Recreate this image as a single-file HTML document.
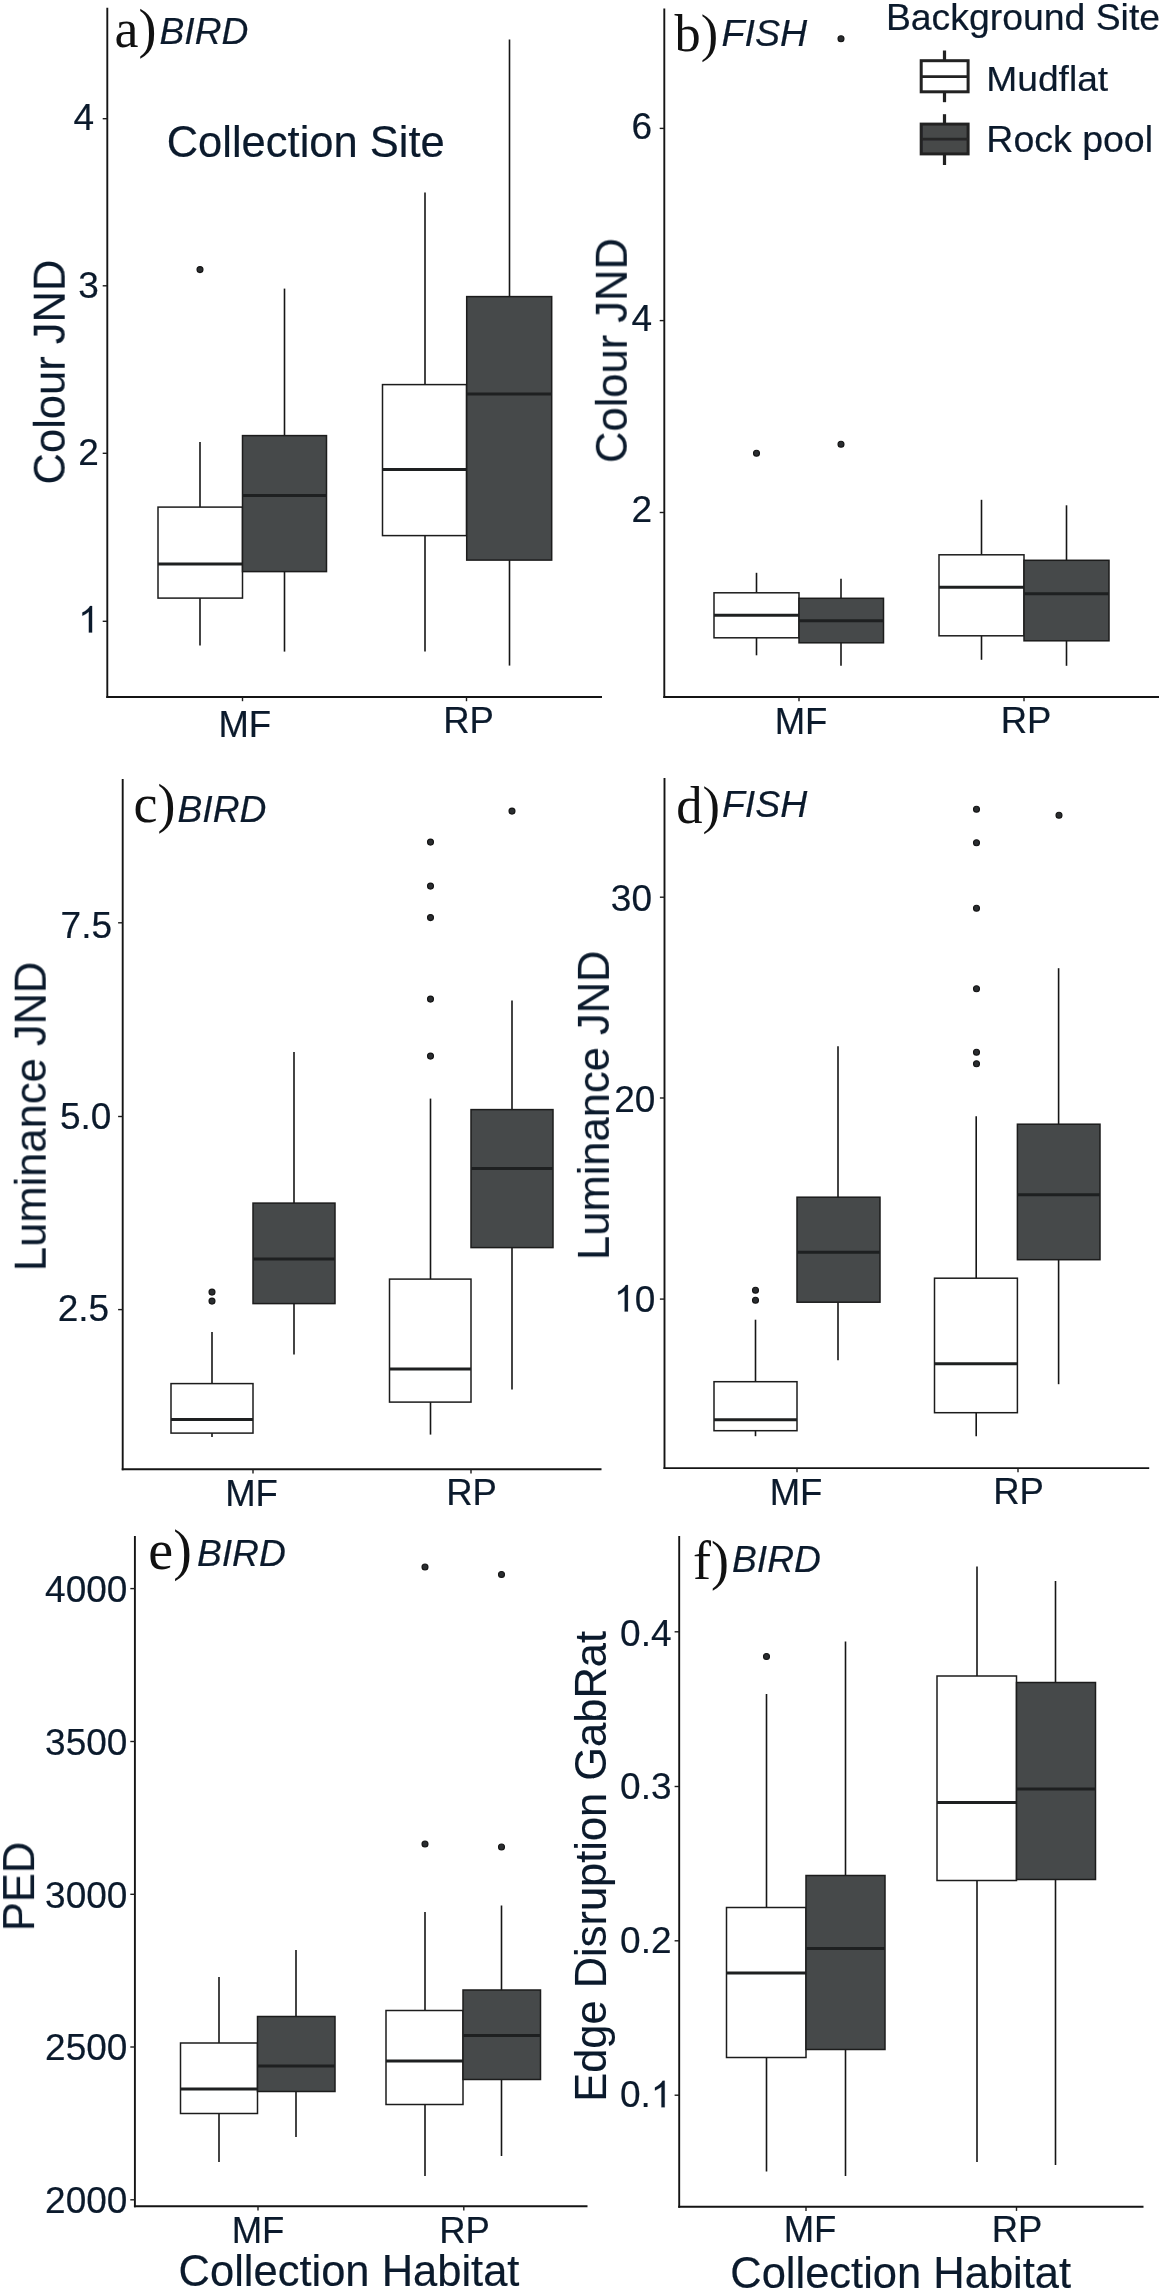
<!DOCTYPE html>
<html><head><meta charset="utf-8"><title>Figure</title>
<style>
html,body{margin:0;padding:0;background:#ffffff;}
body{width:1159px;height:2293px;overflow:hidden;font-family:"Liberation Sans",sans-serif;}
svg{display:block;}
</style></head><body>
<svg width="1159" height="2293" viewBox="0 0 1159 2293">
<defs><filter id="bl" x="-20%" y="-20%" width="140%" height="140%"><feGaussianBlur stdDeviation="0.7"/></filter></defs>
<rect x="0" y="0" width="1159" height="2293" fill="#ffffff"/>
<g opacity="0.999">
<line x1="107.3" y1="7.8" x2="107.3" y2="697.95" stroke="#141414" stroke-width="1.9"/>
<line x1="106.35" y1="697.0" x2="602" y2="697.0" stroke="#141414" stroke-width="1.9"/>
<line x1="102.7" y1="118.7" x2="107.3" y2="118.7" stroke="#1c1c1c" stroke-width="1.4"/>
<text x="94.0" y="130.45" font-size="37" text-anchor="end" font-family="'Liberation Sans', sans-serif" fill="#0b1a2c" stroke="#0b1a2c" stroke-width="0.2" >4</text>
<line x1="102.7" y1="285.8" x2="107.3" y2="285.8" stroke="#1c1c1c" stroke-width="1.4"/>
<text x="98.9" y="298.35" font-size="37" text-anchor="end" font-family="'Liberation Sans', sans-serif" fill="#0b1a2c" stroke="#0b1a2c" stroke-width="0.2" >3</text>
<line x1="102.7" y1="453.3" x2="107.3" y2="453.3" stroke="#1c1c1c" stroke-width="1.4"/>
<text x="98.9" y="465.25" font-size="37" text-anchor="end" font-family="'Liberation Sans', sans-serif" fill="#0b1a2c" stroke="#0b1a2c" stroke-width="0.2" >2</text>
<line x1="102.7" y1="621.3" x2="107.3" y2="621.3" stroke="#1c1c1c" stroke-width="1.4"/>
<path d="M763 0H583V1147Q518 1085 412.5 1023T223 930V1104Q374 1175 487 1276T647 1472H763Z" transform="translate(78.32,632.55) scale(0.018066,-0.018066)" fill="#0b1a2c" stroke="#0b1a2c" stroke-width="11.1"/>
<line x1="242.5" y1="697.0" x2="242.5" y2="701.2" stroke="#1c1c1c" stroke-width="1.4"/>
<line x1="466.5" y1="697.0" x2="466.5" y2="701.2" stroke="#1c1c1c" stroke-width="1.4"/>
<line x1="200" y1="442.1" x2="200" y2="507.1" stroke="#161616" stroke-width="1.6"/>
<line x1="200" y1="598.1" x2="200" y2="645.6" stroke="#161616" stroke-width="1.6"/>
<rect x="158" y="507.1" width="84.5" height="91.0" fill="#ffffff" stroke="#1c1c1c" stroke-width="1.5"/>
<line x1="158" y1="564.1" x2="242.5" y2="564.1" stroke="#1e2021" stroke-width="3.0"/>
<line x1="284.5" y1="288.6" x2="284.5" y2="435.6" stroke="#161616" stroke-width="1.6"/>
<line x1="284.5" y1="571.6" x2="284.5" y2="651.6" stroke="#161616" stroke-width="1.6"/>
<rect x="242.5" y="435.6" width="84.0" height="136.0" fill="#46494a" stroke="#1c1c1c" stroke-width="1.5"/>
<line x1="242.5" y1="495.6" x2="326.5" y2="495.6" stroke="#1e2021" stroke-width="3.0"/>
<circle cx="200" cy="269.6" r="3.0" fill="#2a2d30" stroke="#141414" stroke-width="1.1"/>
<line x1="425" y1="192.6" x2="425" y2="384.6" stroke="#161616" stroke-width="1.6"/>
<line x1="425" y1="535.6" x2="425" y2="651.6" stroke="#161616" stroke-width="1.6"/>
<rect x="382.5" y="384.6" width="84.0" height="151.0" fill="#ffffff" stroke="#1c1c1c" stroke-width="1.5"/>
<line x1="382.5" y1="469.6" x2="466.5" y2="469.6" stroke="#1e2021" stroke-width="3.0"/>
<line x1="509.5" y1="39.6" x2="509.5" y2="296.6" stroke="#161616" stroke-width="1.6"/>
<line x1="509.5" y1="560.1" x2="509.5" y2="665.6" stroke="#161616" stroke-width="1.6"/>
<rect x="466.7" y="296.6" width="85.0" height="263.5" fill="#46494a" stroke="#1c1c1c" stroke-width="1.5"/>
<line x1="466.7" y1="394.1" x2="551.7" y2="394.1" stroke="#1e2021" stroke-width="3.0"/>
<text x="244.8" y="737.0" font-size="36.5" text-anchor="middle" font-family="'Liberation Sans', sans-serif" fill="#0b1a2c" stroke="#0b1a2c" stroke-width="0.2" >MF</text>
<text x="468.5" y="732.5" font-size="36.5" text-anchor="middle" font-family="'Liberation Sans', sans-serif" fill="#0b1a2c" stroke="#0b1a2c" stroke-width="0.2" >RP</text>
<text x="114.5" y="46.6" font-size="54" text-anchor="start" font-family="'Liberation Serif', serif" fill="#111111"  >a)</text>
<text x="159.5" y="43.5" font-size="37.2" text-anchor="start" font-family="'Liberation Sans', sans-serif" fill="#0b1a2c" stroke="#0b1a2c" stroke-width="0.2" font-style="italic">BIRD</text>
<text x="166.7" y="156.8" font-size="43.5" text-anchor="start" font-family="'Liberation Sans', sans-serif" fill="#0b1a2c" stroke="#0b1a2c" stroke-width="0.2" >Collection Site</text>
<text transform="translate(64.7,372) rotate(-90)" font-size="43.5" text-anchor="middle" font-family="'Liberation Sans', sans-serif" fill="#0b1a2c" stroke="#0b1a2c" stroke-width="0.1">Colour JND</text>
<line x1="664.3" y1="8.6" x2="664.3" y2="697.95" stroke="#141414" stroke-width="1.9"/>
<line x1="663.3499999999999" y1="697.0" x2="1159" y2="697.0" stroke="#141414" stroke-width="1.9"/>
<line x1="659.6999999999999" y1="128.4" x2="664.3" y2="128.4" stroke="#1c1c1c" stroke-width="1.4"/>
<text x="652.2" y="139.45" font-size="37" text-anchor="end" font-family="'Liberation Sans', sans-serif" fill="#0b1a2c" stroke="#0b1a2c" stroke-width="0.2" >6</text>
<line x1="659.6999999999999" y1="320.6" x2="664.3" y2="320.6" stroke="#1c1c1c" stroke-width="1.4"/>
<text x="652.2" y="331.05" font-size="37" text-anchor="end" font-family="'Liberation Sans', sans-serif" fill="#0b1a2c" stroke="#0b1a2c" stroke-width="0.2" >4</text>
<line x1="659.6999999999999" y1="512.5" x2="664.3" y2="512.5" stroke="#1c1c1c" stroke-width="1.4"/>
<text x="652.2" y="522.25" font-size="37" text-anchor="end" font-family="'Liberation Sans', sans-serif" fill="#0b1a2c" stroke="#0b1a2c" stroke-width="0.2" >2</text>
<line x1="799" y1="697.0" x2="799" y2="701.2" stroke="#1c1c1c" stroke-width="1.4"/>
<line x1="1024" y1="697.0" x2="1024" y2="701.2" stroke="#1c1c1c" stroke-width="1.4"/>
<circle cx="841" cy="38.8" r="3.0" fill="#2a2d30" stroke="#141414" stroke-width="1.1"/>
<circle cx="756.5" cy="453.3" r="3.0" fill="#2a2d30" stroke="#141414" stroke-width="1.1"/>
<circle cx="841" cy="444.3" r="3.0" fill="#2a2d30" stroke="#141414" stroke-width="1.1"/>
<line x1="756.5" y1="572.8" x2="756.5" y2="592.8" stroke="#161616" stroke-width="1.6"/>
<line x1="756.5" y1="637.8" x2="756.5" y2="655.3" stroke="#161616" stroke-width="1.6"/>
<rect x="714" y="592.8" width="85" height="45.0" fill="#ffffff" stroke="#1c1c1c" stroke-width="1.5"/>
<line x1="714" y1="615.3" x2="799" y2="615.3" stroke="#1e2021" stroke-width="3.0"/>
<line x1="841" y1="578.8" x2="841" y2="598.3" stroke="#161616" stroke-width="1.6"/>
<line x1="841" y1="642.8" x2="841" y2="665.8" stroke="#161616" stroke-width="1.6"/>
<rect x="799" y="598.3" width="84.5" height="44.5" fill="#46494a" stroke="#1c1c1c" stroke-width="1.5"/>
<line x1="799" y1="620.8" x2="883.5" y2="620.8" stroke="#1e2021" stroke-width="3.0"/>
<line x1="981.5" y1="499.8" x2="981.5" y2="554.8" stroke="#161616" stroke-width="1.6"/>
<line x1="981.5" y1="635.8" x2="981.5" y2="659.8" stroke="#161616" stroke-width="1.6"/>
<rect x="939" y="554.8" width="85" height="81.0" fill="#ffffff" stroke="#1c1c1c" stroke-width="1.5"/>
<line x1="939" y1="587.3" x2="1024" y2="587.3" stroke="#1e2021" stroke-width="3.0"/>
<line x1="1066.5" y1="505.3" x2="1066.5" y2="560.3" stroke="#161616" stroke-width="1.6"/>
<line x1="1066.5" y1="640.8" x2="1066.5" y2="665.8" stroke="#161616" stroke-width="1.6"/>
<rect x="1024" y="560.3" width="85" height="80.5" fill="#46494a" stroke="#1c1c1c" stroke-width="1.5"/>
<line x1="1024" y1="593.8" x2="1109" y2="593.8" stroke="#1e2021" stroke-width="3.0"/>
<text x="801" y="734" font-size="36.5" text-anchor="middle" font-family="'Liberation Sans', sans-serif" fill="#0b1a2c" stroke="#0b1a2c" stroke-width="0.2" >MF</text>
<text x="1026" y="733" font-size="36.5" text-anchor="middle" font-family="'Liberation Sans', sans-serif" fill="#0b1a2c" stroke="#0b1a2c" stroke-width="0.2" >RP</text>
<text x="674.6" y="51.2" font-size="52.3" text-anchor="start" font-family="'Liberation Serif', serif" fill="#111111"  >b)</text>
<text x="721.5" y="45.5" font-size="37.6" text-anchor="start" font-family="'Liberation Sans', sans-serif" fill="#0b1a2c" stroke="#0b1a2c" stroke-width="0.2" font-style="italic">FISH</text>
<text transform="translate(626.8,350.5) rotate(-90)" font-size="43.5" text-anchor="middle" font-family="'Liberation Sans', sans-serif" fill="#0b1a2c" stroke="#0b1a2c" stroke-width="0.1">Colour JND</text>
<text transform="translate(885.9,30.2) scale(1.038,1)" font-size="36" text-anchor="start" font-family="'Liberation Sans', sans-serif" fill="#0b1a2c" stroke="#0b1a2c" stroke-width="0.2" >Background Site</text>
<text transform="translate(986.3,91.1) scale(1.033,1)" font-size="36" text-anchor="start" font-family="'Liberation Sans', sans-serif" fill="#0b1a2c" stroke="#0b1a2c" stroke-width="0.2" >Mudflat</text>
<text transform="translate(986.3,152.1) scale(1.042,1)" font-size="36" text-anchor="start" font-family="'Liberation Sans', sans-serif" fill="#0b1a2c" stroke="#0b1a2c" stroke-width="0.2" >Rock pool</text>
<g filter="url(#bl)">
<line x1="944.5" y1="50.5" x2="944.5" y2="102.2" stroke="#222" stroke-width="3.2"/>
<rect x="921.2" y="60.7" width="46.9" height="31.1" fill="#fff" stroke="#222" stroke-width="3"/>
<line x1="921.2" y1="76.6" x2="968.1" y2="76.6" stroke="#222" stroke-width="2.8"/>
<line x1="944.5" y1="114.2" x2="944.5" y2="165" stroke="#222" stroke-width="3.2"/>
<rect x="921.2" y="124.1" width="46.9" height="29.8" fill="#46494a" stroke="#222" stroke-width="3"/>
<line x1="921.2" y1="139.1" x2="968.1" y2="139.1" stroke="#252525" stroke-width="2.8"/>
</g>
<line x1="122.7" y1="779" x2="122.7" y2="1470.25" stroke="#141414" stroke-width="1.9"/>
<line x1="121.75" y1="1469.3" x2="601.5" y2="1469.3" stroke="#141414" stroke-width="1.9"/>
<line x1="118.10000000000001" y1="922.8" x2="122.7" y2="922.8" stroke="#1c1c1c" stroke-width="1.4"/>
<text x="112.0" y="937.65" font-size="37" text-anchor="end" font-family="'Liberation Sans', sans-serif" fill="#0b1a2c" stroke="#0b1a2c" stroke-width="0.2" >7.5</text>
<line x1="118.10000000000001" y1="1116.5" x2="122.7" y2="1116.5" stroke="#1c1c1c" stroke-width="1.4"/>
<text x="111.4" y="1129.45" font-size="37" text-anchor="end" font-family="'Liberation Sans', sans-serif" fill="#0b1a2c" stroke="#0b1a2c" stroke-width="0.2" >5.0</text>
<line x1="118.10000000000001" y1="1309.6" x2="122.7" y2="1309.6" stroke="#1c1c1c" stroke-width="1.4"/>
<text x="109.1" y="1321.45" font-size="37" text-anchor="end" font-family="'Liberation Sans', sans-serif" fill="#0b1a2c" stroke="#0b1a2c" stroke-width="0.2" >2.5</text>
<line x1="253" y1="1469.3" x2="253" y2="1473.5" stroke="#1c1c1c" stroke-width="1.4"/>
<line x1="471" y1="1469.3" x2="471" y2="1473.5" stroke="#1c1c1c" stroke-width="1.4"/>
<line x1="212" y1="1332.1" x2="212" y2="1383.6" stroke="#161616" stroke-width="1.6"/>
<line x1="212" y1="1433.1" x2="212" y2="1437.1" stroke="#161616" stroke-width="1.6"/>
<rect x="171" y="1383.6" width="82" height="49.5" fill="#ffffff" stroke="#1c1c1c" stroke-width="1.5"/>
<line x1="171" y1="1419.6" x2="253" y2="1419.6" stroke="#1e2021" stroke-width="3.0"/>
<circle cx="212" cy="1292.1" r="3.0" fill="#2a2d30" stroke="#141414" stroke-width="1.1"/>
<circle cx="212" cy="1301.1" r="3.0" fill="#2a2d30" stroke="#141414" stroke-width="1.1"/>
<line x1="294" y1="1052.1" x2="294" y2="1203.1" stroke="#161616" stroke-width="1.6"/>
<line x1="294" y1="1303.6" x2="294" y2="1354.6" stroke="#161616" stroke-width="1.6"/>
<rect x="253" y="1203.1" width="82" height="100.5" fill="#46494a" stroke="#1c1c1c" stroke-width="1.5"/>
<line x1="253" y1="1259.1" x2="335" y2="1259.1" stroke="#1e2021" stroke-width="3.0"/>
<line x1="430.5" y1="1098.6" x2="430.5" y2="1279.1" stroke="#161616" stroke-width="1.6"/>
<line x1="430.5" y1="1402.1" x2="430.5" y2="1434.6" stroke="#161616" stroke-width="1.6"/>
<rect x="389.5" y="1279.1" width="81.5" height="123.0" fill="#ffffff" stroke="#1c1c1c" stroke-width="1.5"/>
<line x1="389.5" y1="1369.1" x2="471" y2="1369.1" stroke="#1e2021" stroke-width="3.0"/>
<circle cx="430.5" cy="842.1" r="3.0" fill="#2a2d30" stroke="#141414" stroke-width="1.1"/>
<circle cx="430.5" cy="886.1" r="3.0" fill="#2a2d30" stroke="#141414" stroke-width="1.1"/>
<circle cx="430.5" cy="917.6" r="3.0" fill="#2a2d30" stroke="#141414" stroke-width="1.1"/>
<circle cx="430.5" cy="999.1" r="3.0" fill="#2a2d30" stroke="#141414" stroke-width="1.1"/>
<circle cx="430.5" cy="1056.1" r="3.0" fill="#2a2d30" stroke="#141414" stroke-width="1.1"/>
<line x1="512" y1="1000.6" x2="512" y2="1109.6" stroke="#161616" stroke-width="1.6"/>
<line x1="512" y1="1247.6" x2="512" y2="1389.6" stroke="#161616" stroke-width="1.6"/>
<rect x="471" y="1109.6" width="82" height="138.0" fill="#46494a" stroke="#1c1c1c" stroke-width="1.5"/>
<line x1="471" y1="1168.6" x2="553" y2="1168.6" stroke="#1e2021" stroke-width="3.0"/>
<circle cx="512" cy="811.1" r="3.0" fill="#2a2d30" stroke="#141414" stroke-width="1.1"/>
<text x="251.5" y="1506" font-size="36.5" text-anchor="middle" font-family="'Liberation Sans', sans-serif" fill="#0b1a2c" stroke="#0b1a2c" stroke-width="0.2" >MF</text>
<text x="471.5" y="1505" font-size="36.5" text-anchor="middle" font-family="'Liberation Sans', sans-serif" fill="#0b1a2c" stroke="#0b1a2c" stroke-width="0.2" >RP</text>
<text x="133.5" y="822.1" font-size="54" text-anchor="start" font-family="'Liberation Serif', serif" fill="#111111"  >c)</text>
<text x="177.5" y="821.5" font-size="37.2" text-anchor="start" font-family="'Liberation Sans', sans-serif" fill="#0b1a2c" stroke="#0b1a2c" stroke-width="0.2" font-style="italic">BIRD</text>
<text transform="translate(45.7,1116.4) rotate(-90)" font-size="43.5" text-anchor="middle" font-family="'Liberation Sans', sans-serif" fill="#0b1a2c" stroke="#0b1a2c" stroke-width="0.1">Luminance JND</text>
<line x1="664.5" y1="778" x2="664.5" y2="1469.05" stroke="#141414" stroke-width="1.9"/>
<line x1="663.55" y1="1468.1" x2="1149.2" y2="1468.1" stroke="#141414" stroke-width="1.9"/>
<line x1="659.9" y1="897.2" x2="664.5" y2="897.2" stroke="#1c1c1c" stroke-width="1.4"/>
<text x="652.0" y="911.05" font-size="37" text-anchor="end" font-family="'Liberation Sans', sans-serif" fill="#0b1a2c" stroke="#0b1a2c" stroke-width="0.2" >30</text>
<line x1="659.9" y1="1098.0" x2="664.5" y2="1098.0" stroke="#1c1c1c" stroke-width="1.4"/>
<text x="655.3" y="1111.85" font-size="37" text-anchor="end" font-family="'Liberation Sans', sans-serif" fill="#0b1a2c" stroke="#0b1a2c" stroke-width="0.2" >20</text>
<line x1="659.9" y1="1299.1" x2="664.5" y2="1299.1" stroke="#1c1c1c" stroke-width="1.4"/>
<path d="M763 0H583V1147Q518 1085 412.5 1023T223 930V1104Q374 1175 487 1276T647 1472H763Z" transform="translate(614.14,1311.55) scale(0.018066,-0.018066)" fill="#0b1a2c" stroke="#0b1a2c" stroke-width="11.1"/>
<text x="655.3" y="1311.55" font-size="37" text-anchor="end" font-family="'Liberation Sans', sans-serif" fill="#0b1a2c" stroke="#0b1a2c" stroke-width="0.2" >0</text>
<line x1="797" y1="1468.1" x2="797" y2="1472.3" stroke="#1c1c1c" stroke-width="1.4"/>
<line x1="1018" y1="1468.1" x2="1018" y2="1472.3" stroke="#1c1c1c" stroke-width="1.4"/>
<line x1="755.5" y1="1319.7" x2="755.5" y2="1381.7" stroke="#161616" stroke-width="1.6"/>
<line x1="755.5" y1="1430.7" x2="755.5" y2="1436.2" stroke="#161616" stroke-width="1.6"/>
<rect x="714" y="1381.7" width="83" height="49.0" fill="#ffffff" stroke="#1c1c1c" stroke-width="1.5"/>
<line x1="714" y1="1419.7" x2="797" y2="1419.7" stroke="#1e2021" stroke-width="3.0"/>
<circle cx="755.5" cy="1290.2" r="3.0" fill="#2a2d30" stroke="#141414" stroke-width="1.1"/>
<circle cx="755.5" cy="1300.2" r="3.0" fill="#2a2d30" stroke="#141414" stroke-width="1.1"/>
<line x1="838" y1="1046.2" x2="838" y2="1197.2" stroke="#161616" stroke-width="1.6"/>
<line x1="838" y1="1302.2" x2="838" y2="1360.2" stroke="#161616" stroke-width="1.6"/>
<rect x="797" y="1197.2" width="83" height="105.0" fill="#46494a" stroke="#1c1c1c" stroke-width="1.5"/>
<line x1="797" y1="1252.2" x2="880" y2="1252.2" stroke="#1e2021" stroke-width="3.0"/>
<line x1="976.2" y1="1116.2" x2="976.2" y2="1278.2" stroke="#161616" stroke-width="1.6"/>
<line x1="976.2" y1="1412.7" x2="976.2" y2="1436.2" stroke="#161616" stroke-width="1.6"/>
<rect x="934.5" y="1278.2" width="82.9" height="134.5" fill="#ffffff" stroke="#1c1c1c" stroke-width="1.5"/>
<line x1="934.5" y1="1363.7" x2="1017.4" y2="1363.7" stroke="#1e2021" stroke-width="3.0"/>
<circle cx="976.5" cy="809.2" r="3.0" fill="#2a2d30" stroke="#141414" stroke-width="1.1"/>
<circle cx="976.5" cy="842.7" r="3.0" fill="#2a2d30" stroke="#141414" stroke-width="1.1"/>
<circle cx="976.5" cy="908.2" r="3.0" fill="#2a2d30" stroke="#141414" stroke-width="1.1"/>
<circle cx="976.5" cy="988.7" r="3.0" fill="#2a2d30" stroke="#141414" stroke-width="1.1"/>
<circle cx="976.5" cy="1052.2" r="3.0" fill="#2a2d30" stroke="#141414" stroke-width="1.1"/>
<circle cx="976.5" cy="1063.7" r="3.0" fill="#2a2d30" stroke="#141414" stroke-width="1.1"/>
<line x1="1058.6" y1="968.2" x2="1058.6" y2="1124.2" stroke="#161616" stroke-width="1.6"/>
<line x1="1058.6" y1="1259.7" x2="1058.6" y2="1384.2" stroke="#161616" stroke-width="1.6"/>
<rect x="1017.4" y="1124.2" width="82.6" height="135.5" fill="#46494a" stroke="#1c1c1c" stroke-width="1.5"/>
<line x1="1017.4" y1="1194.7" x2="1100" y2="1194.7" stroke="#1e2021" stroke-width="3.0"/>
<circle cx="1059" cy="815.2" r="3.0" fill="#2a2d30" stroke="#141414" stroke-width="1.1"/>
<text x="796" y="1505" font-size="36.5" text-anchor="middle" font-family="'Liberation Sans', sans-serif" fill="#0b1a2c" stroke="#0b1a2c" stroke-width="0.2" >MF</text>
<text x="1018.5" y="1504" font-size="36.5" text-anchor="middle" font-family="'Liberation Sans', sans-serif" fill="#0b1a2c" stroke="#0b1a2c" stroke-width="0.2" >RP</text>
<text x="676.3" y="822.8" font-size="52.5" text-anchor="start" font-family="'Liberation Serif', serif" fill="#111111"  >d)</text>
<text x="722" y="816.9" font-size="37.4" text-anchor="start" font-family="'Liberation Sans', sans-serif" fill="#0b1a2c" stroke="#0b1a2c" stroke-width="0.2" font-style="italic">FISH</text>
<text transform="translate(608.9,1105.3) rotate(-90)" font-size="43.5" text-anchor="middle" font-family="'Liberation Sans', sans-serif" fill="#0b1a2c" stroke="#0b1a2c" stroke-width="0.1">Luminance JND</text>
<line x1="134.9" y1="1536" x2="134.9" y2="2207.1499999999996" stroke="#141414" stroke-width="1.9"/>
<line x1="133.95000000000002" y1="2206.2" x2="587.5" y2="2206.2" stroke="#141414" stroke-width="1.9"/>
<line x1="130.3" y1="1588.6" x2="134.9" y2="1588.6" stroke="#1c1c1c" stroke-width="1.4"/>
<text x="127.4" y="1602.05" font-size="37" text-anchor="end" font-family="'Liberation Sans', sans-serif" fill="#0b1a2c" stroke="#0b1a2c" stroke-width="0.2" >4000</text>
<line x1="130.3" y1="1741.5" x2="134.9" y2="1741.5" stroke="#1c1c1c" stroke-width="1.4"/>
<text x="127.4" y="1754.75" font-size="37" text-anchor="end" font-family="'Liberation Sans', sans-serif" fill="#0b1a2c" stroke="#0b1a2c" stroke-width="0.2" >3500</text>
<line x1="130.3" y1="1894.3" x2="134.9" y2="1894.3" stroke="#1c1c1c" stroke-width="1.4"/>
<text x="127.4" y="1907.55" font-size="37" text-anchor="end" font-family="'Liberation Sans', sans-serif" fill="#0b1a2c" stroke="#0b1a2c" stroke-width="0.2" >3000</text>
<line x1="130.3" y1="2047.0" x2="134.9" y2="2047.0" stroke="#1c1c1c" stroke-width="1.4"/>
<text x="127.4" y="2059.85" font-size="37" text-anchor="end" font-family="'Liberation Sans', sans-serif" fill="#0b1a2c" stroke="#0b1a2c" stroke-width="0.2" >2500</text>
<line x1="130.3" y1="2199.8" x2="134.9" y2="2199.8" stroke="#1c1c1c" stroke-width="1.4"/>
<text x="127.4" y="2212.65" font-size="37" text-anchor="end" font-family="'Liberation Sans', sans-serif" fill="#0b1a2c" stroke="#0b1a2c" stroke-width="0.2" >2000</text>
<line x1="258.0" y1="2206.2" x2="258.0" y2="2210.3999999999996" stroke="#1c1c1c" stroke-width="1.4"/>
<line x1="463.8" y1="2206.2" x2="463.8" y2="2210.3999999999996" stroke="#1c1c1c" stroke-width="1.4"/>
<line x1="219" y1="1977.0" x2="219" y2="2043.0" stroke="#161616" stroke-width="1.6"/>
<line x1="219" y1="2113.5" x2="219" y2="2162.0" stroke="#161616" stroke-width="1.6"/>
<rect x="180.5" y="2043.0" width="77.0" height="70.5" fill="#ffffff" stroke="#1c1c1c" stroke-width="1.5"/>
<line x1="180.5" y1="2089.0" x2="257.5" y2="2089.0" stroke="#1e2021" stroke-width="3.0"/>
<line x1="296" y1="1950.0" x2="296" y2="2016.5" stroke="#161616" stroke-width="1.6"/>
<line x1="296" y1="2091.5" x2="296" y2="2137.0" stroke="#161616" stroke-width="1.6"/>
<rect x="257.5" y="2016.5" width="77.5" height="75.0" fill="#46494a" stroke="#1c1c1c" stroke-width="1.5"/>
<line x1="257.5" y1="2066.0" x2="335" y2="2066.0" stroke="#1e2021" stroke-width="3.0"/>
<line x1="425" y1="1912.0" x2="425" y2="2010.5" stroke="#161616" stroke-width="1.6"/>
<line x1="425" y1="2104.5" x2="425" y2="2176.0" stroke="#161616" stroke-width="1.6"/>
<rect x="386" y="2010.5" width="77" height="94.0" fill="#ffffff" stroke="#1c1c1c" stroke-width="1.5"/>
<line x1="386" y1="2061.0" x2="463" y2="2061.0" stroke="#1e2021" stroke-width="3.0"/>
<circle cx="425" cy="1567.0" r="3.0" fill="#2a2d30" stroke="#141414" stroke-width="1.1"/>
<circle cx="425" cy="1844.0" r="3.0" fill="#2a2d30" stroke="#141414" stroke-width="1.1"/>
<line x1="501.5" y1="1905.5" x2="501.5" y2="1990.0" stroke="#161616" stroke-width="1.6"/>
<line x1="501.5" y1="2079.5" x2="501.5" y2="2156.0" stroke="#161616" stroke-width="1.6"/>
<rect x="463" y="1990.0" width="77.5" height="89.5" fill="#46494a" stroke="#1c1c1c" stroke-width="1.5"/>
<line x1="463" y1="2035.5" x2="540.5" y2="2035.5" stroke="#1e2021" stroke-width="3.0"/>
<circle cx="501.5" cy="1574.5" r="3.0" fill="#2a2d30" stroke="#141414" stroke-width="1.1"/>
<circle cx="501.5" cy="1847.0" r="3.0" fill="#2a2d30" stroke="#141414" stroke-width="1.1"/>
<text x="258" y="2243.3" font-size="36.5" text-anchor="middle" font-family="'Liberation Sans', sans-serif" fill="#0b1a2c" stroke="#0b1a2c" stroke-width="0.2" >MF</text>
<text x="464.6" y="2242.8" font-size="36.5" text-anchor="middle" font-family="'Liberation Sans', sans-serif" fill="#0b1a2c" stroke="#0b1a2c" stroke-width="0.2" >RP</text>
<text x="148.3" y="1568.7" font-size="56" text-anchor="start" font-family="'Liberation Serif', serif" fill="#111111"  >e)</text>
<text x="196.9" y="1566" font-size="37.2" text-anchor="start" font-family="'Liberation Sans', sans-serif" fill="#0b1a2c" stroke="#0b1a2c" stroke-width="0.2" font-style="italic">BIRD</text>
<text transform="translate(34.1,1886.4) rotate(-90)" font-size="43.5" text-anchor="middle" font-family="'Liberation Sans', sans-serif" fill="#0b1a2c" stroke="#0b1a2c" stroke-width="0.1">PED</text>
<text x="349" y="2286" font-size="43.5" text-anchor="middle" font-family="'Liberation Sans', sans-serif" fill="#0b1a2c" stroke="#0b1a2c" stroke-width="0.2" >Collection Habitat</text>
<line x1="679.2" y1="1536" x2="679.2" y2="2207.6499999999996" stroke="#141414" stroke-width="1.9"/>
<line x1="678.25" y1="2206.7" x2="1143.5" y2="2206.7" stroke="#141414" stroke-width="1.9"/>
<line x1="674.6" y1="1631.8" x2="679.2" y2="1631.8" stroke="#1c1c1c" stroke-width="1.4"/>
<text x="671.5" y="1646.25" font-size="37" text-anchor="end" font-family="'Liberation Sans', sans-serif" fill="#0b1a2c" stroke="#0b1a2c" stroke-width="0.2" >0.4</text>
<line x1="674.6" y1="1786.5" x2="679.2" y2="1786.5" stroke="#1c1c1c" stroke-width="1.4"/>
<text x="671.5" y="1798.75" font-size="37" text-anchor="end" font-family="'Liberation Sans', sans-serif" fill="#0b1a2c" stroke="#0b1a2c" stroke-width="0.2" >0.3</text>
<line x1="674.6" y1="1940.8" x2="679.2" y2="1940.8" stroke="#1c1c1c" stroke-width="1.4"/>
<text x="671.5" y="1952.55" font-size="37" text-anchor="end" font-family="'Liberation Sans', sans-serif" fill="#0b1a2c" stroke="#0b1a2c" stroke-width="0.2" >0.2</text>
<line x1="674.6" y1="2095.2" x2="679.2" y2="2095.2" stroke="#1c1c1c" stroke-width="1.4"/>
<text x="650.92" y="2107.35" font-size="37" text-anchor="end" font-family="'Liberation Sans', sans-serif" fill="#0b1a2c" stroke="#0b1a2c" stroke-width="0.2" >0.</text>
<path d="M763 0H583V1147Q518 1085 412.5 1023T223 930V1104Q374 1175 487 1276T647 1472H763Z" transform="translate(650.92,2107.35) scale(0.018066,-0.018066)" fill="#0b1a2c" stroke="#0b1a2c" stroke-width="11.1"/>
<line x1="806" y1="2206.7" x2="806" y2="2210.8999999999996" stroke="#1c1c1c" stroke-width="1.4"/>
<line x1="1016.5" y1="2206.7" x2="1016.5" y2="2210.8999999999996" stroke="#1c1c1c" stroke-width="1.4"/>
<line x1="766.5" y1="1694.0" x2="766.5" y2="1907.5" stroke="#161616" stroke-width="1.6"/>
<line x1="766.5" y1="2057.5" x2="766.5" y2="2171.5" stroke="#161616" stroke-width="1.6"/>
<rect x="726.5" y="1907.5" width="79.5" height="150.0" fill="#ffffff" stroke="#1c1c1c" stroke-width="1.5"/>
<line x1="726.5" y1="1973.0" x2="806" y2="1973.0" stroke="#1e2021" stroke-width="3.0"/>
<circle cx="766.5" cy="1656.5" r="3.0" fill="#2a2d30" stroke="#141414" stroke-width="1.1"/>
<line x1="845.5" y1="1641.5" x2="845.5" y2="1875.5" stroke="#161616" stroke-width="1.6"/>
<line x1="845.5" y1="2049.5" x2="845.5" y2="2176.0" stroke="#161616" stroke-width="1.6"/>
<rect x="806" y="1875.5" width="79" height="174.0" fill="#46494a" stroke="#1c1c1c" stroke-width="1.5"/>
<line x1="806" y1="1948.5" x2="885" y2="1948.5" stroke="#1e2021" stroke-width="3.0"/>
<line x1="977" y1="1566.5" x2="977" y2="1676.0" stroke="#161616" stroke-width="1.6"/>
<line x1="977" y1="1880.5" x2="977" y2="2162.0" stroke="#161616" stroke-width="1.6"/>
<rect x="937" y="1676.0" width="79.5" height="204.5" fill="#ffffff" stroke="#1c1c1c" stroke-width="1.5"/>
<line x1="937" y1="1802.5" x2="1016.5" y2="1802.5" stroke="#1e2021" stroke-width="3.0"/>
<line x1="1055.5" y1="1581.0" x2="1055.5" y2="1682.5" stroke="#161616" stroke-width="1.6"/>
<line x1="1055.5" y1="1879.5" x2="1055.5" y2="2165.0" stroke="#161616" stroke-width="1.6"/>
<rect x="1016.5" y="1682.5" width="79.0" height="197.0" fill="#46494a" stroke="#1c1c1c" stroke-width="1.5"/>
<line x1="1016.5" y1="1789.0" x2="1095.5" y2="1789.0" stroke="#1e2021" stroke-width="3.0"/>
<text x="810" y="2242.4" font-size="36.5" text-anchor="middle" font-family="'Liberation Sans', sans-serif" fill="#0b1a2c" stroke="#0b1a2c" stroke-width="0.2" >MF</text>
<text x="1017" y="2242.4" font-size="36.5" text-anchor="middle" font-family="'Liberation Sans', sans-serif" fill="#0b1a2c" stroke="#0b1a2c" stroke-width="0.2" >RP</text>
<text x="693" y="1579" font-size="54" text-anchor="start" font-family="'Liberation Serif', serif" fill="#111111"  >f)</text>
<text x="732" y="1571.5" font-size="37.2" text-anchor="start" font-family="'Liberation Sans', sans-serif" fill="#0b1a2c" stroke="#0b1a2c" stroke-width="0.2" font-style="italic">BIRD</text>
<text transform="translate(605.9,1866.4) rotate(-90)" font-size="43.45" text-anchor="middle" font-family="'Liberation Sans', sans-serif" fill="#0b1a2c" stroke="#0b1a2c" stroke-width="0.1">Edge Disruption GabRat</text>
<text x="900.7" y="2287.8" font-size="43.5" text-anchor="middle" font-family="'Liberation Sans', sans-serif" fill="#0b1a2c" stroke="#0b1a2c" stroke-width="0.2" >Collection Habitat</text>
</g>
</svg>
</body></html>
